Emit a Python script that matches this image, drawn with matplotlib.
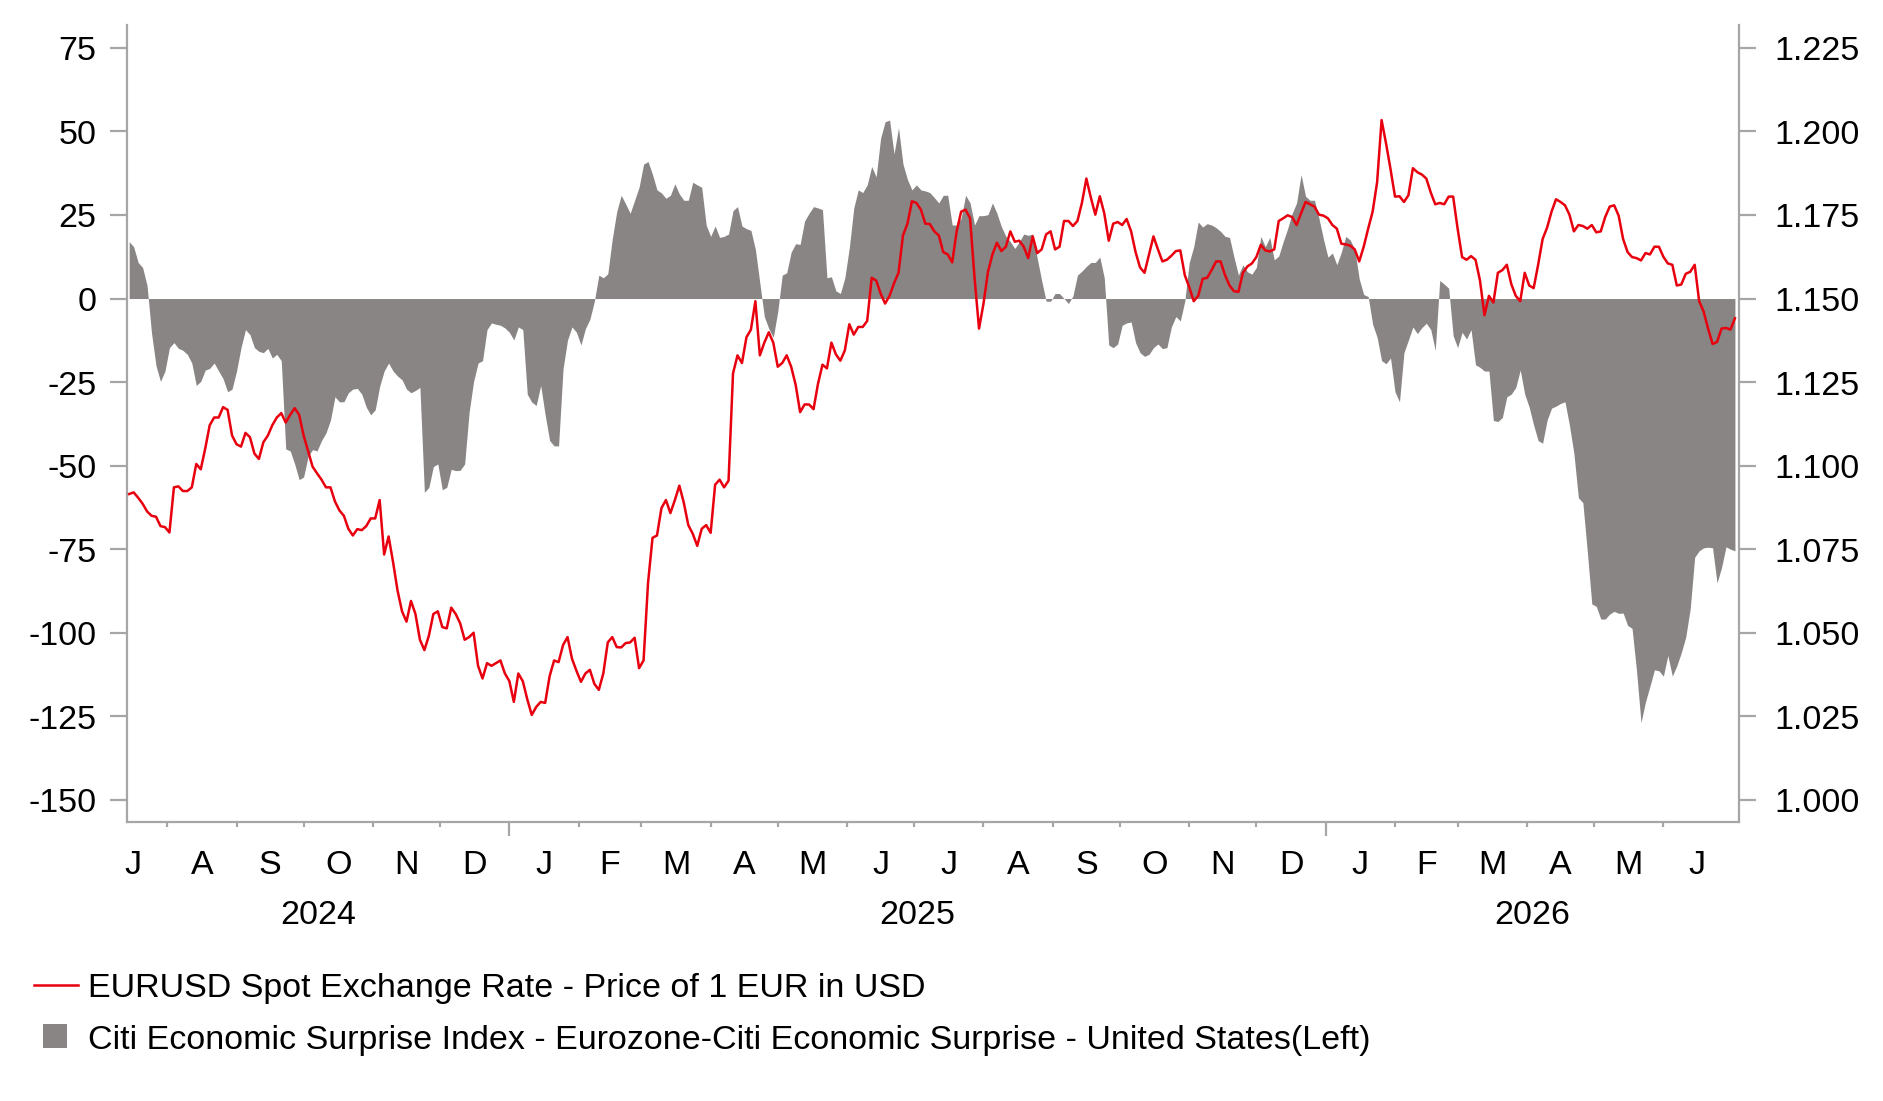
import matplotlib
matplotlib.use("Agg")
import matplotlib.pyplot as plt
import matplotlib.transforms as mtransforms
from matplotlib.lines import Line2D
from matplotlib.patches import Rectangle
import pandas as pd

plt.rcParams["font.family"] = ["Liberation Sans", "DejaVu Sans"]
plt.rcParams["font.size"] = 24.5

COLORS = {
    "fill": "#898584",
    "line": "#E8000E",
    "axis": "#A6A6A6",
    "ink": "#000000",
}

# observations every 2 days, 15 Jul 2024 -> 3 Jul 2026
dates = pd.date_range("2024-07-15", periods=360, freq="2D")

# Citi surprise index: Eurozone minus United States (left axis)
cesi_diff = [
    17, 15.5, 10.8, 9.3, 3.9, -10.4, -20.1, -24.8, -21.7, -14.7,
    -13.2, -14.9, -15.5, -16.7, -19.3, -26.0, -24.8, -21.4, -20.9, -19.3,
    -21.7, -24.0, -27.9, -27.1, -21.7, -14.7, -9.3, -10.8, -14.7, -15.8,
    -16.2, -14.9, -17.8, -16.7, -18.6, -45.0, -45.6, -49.5, -54.2, -53.4,
    -47.2, -45.2, -45.6, -42.5, -40.2, -36.4, -29.4, -30.9, -30.9, -28.2,
    -27.1, -26.9, -28.6, -32.5, -34.8, -33.3, -26.3, -21.7, -19.3, -21.7,
    -23.2, -24.3, -27.1, -28.2, -27.5, -26.6, -58.0, -56.5, -50.3, -49.5,
    -57.2, -56.5, -51.1, -51.5, -51.4, -49.5, -34.0, -24.8, -19.3, -18.6,
    -9.3, -7.3, -7.7, -8.0, -8.8, -10.1, -12.4, -8.5, -9.3, -28.6,
    -31.0,
    -32.0, -26.0, -34.8, -42.5, -44.1, -44.1, -21.0, -12.4, -8.5, -10.1,
    -13.9, -9.0, -6.2, -0.8, 7.0, 6.2, 7.4, 17.8, 26.0, 30.9,
    28.3, 25.5, 29.4, 33.3, 40.2, 41.0, 37.1, 32.5, 31.6, 30.0,
    30.9, 34.3, 31.3, 29.4, 29.4, 34.8, 34.0, 33.3, 22.0, 18.6,
    21.7, 18.3, 18.6, 19.3, 26.3, 27.5, 21.7, 20.9, 20.4, 14.7,
    4.6, -5.4, -9.0, -11.6, -3.9, 7.0, 7.7, 13.9, 16.4, 16.2,
    23.2, 25.5, 27.5, 27.1, 26.6, 6.2, 6.5, 2.3, 1.5, 6.2,
    15.2, 27.1, 32.5, 31.7, 34.0, 39.5, 36.4, 48.0, 52.9, 53.4,
    43.3, 51.1, 40.2, 35.6, 32.5, 34.0, 32.5, 32.2, 31.7, 30.2,
    28.6, 30.9, 30.9, 22.0, 22.0, 24.0, 30.9, 28.6, 22.0, 24.8,
    24.8, 25.1, 28.6, 25.5, 21.5, 18.6, 17.0, 15.0, 17.0, 19.3,
    18.9, 19.3, 12.1, 5.4, -0.8, -0.8, 1.5, 1.5, 0.0, -1.5,
    0.8, 7.0, 8.2, 9.6, 10.8, 10.8, 12.4, 6.2, -13.9, -14.7,
    -13.6, -8.0, -7.3, -7.0, -13.2, -16.2, -17.3, -16.7, -14.7, -13.6,
    -15.0, -14.7, -8.5, -5.4, -6.7, -0.8, 10.8, 15.5, 22.9, 21.4,
    22.4, 22.0, 21.2, 20.1, 18.6, 18.3, 12.4, 7.0, 10.1, 8.0,
    7.3, 9.3, 18.6, 15.5, 18.3, 11.6, 12.7, 17.0, 20.9, 25.5,
    28.6, 37.1, 30.6, 29.4, 29.4, 24.0, 17.8, 12.4, 13.6, 10.1,
    13.9, 18.6, 17.5, 14.7, 5.9, 1.2, 0.6, -7.7, -11.6, -18.6,
    -19.5, -17.8, -27.9, -30.9, -16.2, -12.4, -8.5, -10.5, -8.7, -7.4,
    -9.3, -15.5, 5.4, 4.3, 3.1, -11.1, -14.7, -10.1, -12.1, -9.3,
    -19.8, -20.6, -21.7, -21.7, -36.5, -36.8, -35.6, -29.4, -28.6, -26.6,
    -21.4, -28.6, -32.5, -37.9, -42.5, -43.3, -36.4, -32.8, -32.2, -31.4,
    -30.9, -37.9, -46.4, -59.6, -61.1, -75.8, -91.4, -92.1, -95.9, -95.9,
    -94.4, -93.6, -94.2, -94.1, -97.8, -98.7, -111.4, -126.9, -120.7, -116.0,
    -111.1, -111.4, -113.0, -106.8, -113.0, -109.9, -106.0, -101.3, -92.8, -77.4,
    -75.5, -74.6, -74.4, -74.6, -85.1, -80.5, -74.3, -75.0, -75.5,
]

# EURUSD spot (right axis)
eurusd = [
    1.0915, 1.0920, 1.0904, 1.0886, 1.0863, 1.0850, 1.0847, 1.0819, 1.0816, 1.0800,
    1.0935, 1.0938, 1.0924, 1.0924, 1.0935, 1.1005, 1.0989, 1.1051, 1.1121, 1.1144,
    1.1144, 1.1175, 1.1167, 1.1090, 1.1064, 1.1057, 1.1098, 1.1085, 1.1036, 1.1020,
    1.1070, 1.1090, 1.1121, 1.1144, 1.1157, 1.1129, 1.1152, 1.1172, 1.1152, 1.1090,
    1.1044, 1.0997, 1.0977, 1.0958, 1.0935, 1.0935, 1.0893, 1.0866, 1.0850, 1.0811,
    1.0791, 1.0810, 1.0807, 1.0819, 1.0842, 1.0842, 1.0897, 1.0734, 1.0788, 1.0711,
    1.0626, 1.0564, 1.0533, 1.0595, 1.0556, 1.0479, 1.0448, 1.0491, 1.0556, 1.0564,
    1.0517, 1.0513, 1.0575, 1.0556, 1.0528, 1.0479, 1.0487, 1.0500, 1.0401, 1.0363,
    1.0409, 1.0401, 1.0409, 1.0417, 1.0378, 1.0355, 1.0293, 1.0378, 1.0355, 1.0301,
    1.0254,
    1.0278, 1.0293, 1.0290, 1.0370, 1.0417, 1.0412, 1.0463, 1.0487, 1.0422, 1.0386,
    1.0353, 1.0378, 1.0389, 1.0347, 1.0329, 1.0378, 1.0471, 1.0487, 1.0457, 1.0456,
    1.0469, 1.0471, 1.0485, 1.0394, 1.0417, 1.0649, 1.0784, 1.0791, 1.0873, 1.0897,
    1.0858, 1.0897, 1.0940, 1.0889, 1.0822, 1.0796, 1.0760, 1.0811, 1.0822, 1.0799,
    1.0943, 1.0958, 1.0935, 1.0955, 1.1276, 1.1330, 1.1307, 1.1384, 1.1407, 1.1492,
    1.1330, 1.1368, 1.1399, 1.1368, 1.1296, 1.1307, 1.1330, 1.1296, 1.1242, 1.1160,
    1.1183, 1.1183, 1.1169, 1.1245, 1.1302, 1.1291, 1.1368, 1.1333, 1.1314, 1.1345,
    1.1423, 1.1392, 1.1415, 1.1415, 1.1433, 1.1562, 1.1554, 1.1515, 1.1485, 1.1508,
    1.1546, 1.1577, 1.1689, 1.1724, 1.1791, 1.1786, 1.1766, 1.1724, 1.1723, 1.1701,
    1.1689, 1.1639, 1.1632, 1.1608, 1.1701, 1.1760, 1.1766, 1.1740, 1.1562, 1.1410,
    1.1485, 1.1580, 1.1632, 1.1667, 1.1642, 1.1655, 1.1701, 1.1670, 1.1673, 1.1655,
    1.1621, 1.1686, 1.1636, 1.1647, 1.1692, 1.1701, 1.1647, 1.1655, 1.1732, 1.1732,
    1.1717, 1.1732, 1.1786, 1.1859, 1.1802, 1.1751, 1.1806, 1.1755, 1.1673, 1.1724,
    1.1729, 1.1720, 1.1738, 1.1701, 1.1639, 1.1593, 1.1577, 1.1632, 1.1686, 1.1647,
    1.1611, 1.1616, 1.1628, 1.1642, 1.1644, 1.1570, 1.1534, 1.1492, 1.1508, 1.1559,
    1.1562, 1.1585, 1.1611, 1.1611, 1.1570, 1.1539, 1.1522, 1.1520, 1.1577, 1.1596,
    1.1605, 1.1624, 1.1661, 1.1644, 1.1641, 1.1647, 1.1732, 1.1740, 1.1749, 1.1744,
    1.1720, 1.1755, 1.1789, 1.1782, 1.1775, 1.1751, 1.1748, 1.1740, 1.1720, 1.1709,
    1.1664, 1.1662, 1.1658, 1.1647, 1.1611, 1.1655, 1.1709, 1.1760, 1.1848, 1.2034,
    1.1964, 1.1887, 1.1805, 1.1806, 1.1789, 1.1809, 1.1890, 1.1878, 1.1871, 1.1859,
    1.1817, 1.1782, 1.1786, 1.1782, 1.1805, 1.1805, 1.1709, 1.1624, 1.1616, 1.1627,
    1.1616, 1.1554, 1.1450, 1.1508, 1.1488, 1.1577, 1.1585, 1.1601, 1.1543, 1.1508,
    1.1492, 1.1577, 1.1539, 1.1531, 1.1601, 1.1678, 1.1712, 1.1760, 1.1797, 1.1789,
    1.1779, 1.1751, 1.1701, 1.1720, 1.1717, 1.1709, 1.1720, 1.1698, 1.1701, 1.1744,
    1.1775, 1.1779, 1.1748, 1.1678, 1.1639, 1.1624, 1.1621, 1.1614, 1.1636, 1.1632,
    1.1655, 1.1655, 1.1625, 1.1605, 1.1601, 1.1539, 1.1542, 1.1574, 1.1580, 1.1601,
    1.1492, 1.1461, 1.1410, 1.1364, 1.1370, 1.1410, 1.1412, 1.1407, 1.1441,
]

left_ticks = [-150, -125, -100, -75, -50, -25, 0, 25, 50, 75]
right_ticks = [1.000, 1.025, 1.050, 1.075, 1.100, 1.125, 1.150, 1.175, 1.200, 1.225]
month_letters = ["J", "F", "M", "A", "M", "J", "J", "A", "S", "O", "N", "D"]
years = [2024, 2025, 2026]
legend_labels = [
    "EURUSD Spot Exchange Rate - Price of 1 EUR in USD",
    "Citi Economic Surprise Index - Eurozone-Citi Economic Surprise - United States(Left)",
]

x_start = pd.Timestamp("2024-07-14")
x_end = pd.Timestamp("2026-07-05")
left_lim = (-156.6, 81.7)

fig = plt.figure(figsize=(18.835, 11.015), dpi=100)
ax = fig.add_axes([0.0674, 0.2534, 0.8561, 0.7230])
ax2 = ax.twinx()

ax.fill_between(dates, cesi_diff, 0, color=COLORS["fill"], linewidth=0)
ax2.plot(dates, eurusd, color=COLORS["line"], linewidth=1.8)

# spines
for side in ("top", "right"):
    ax.spines[side].set_visible(False)
for side in ("top", "left", "bottom"):
    ax2.spines[side].set_visible(False)
for sp in (ax.spines["left"], ax.spines["bottom"], ax2.spines["right"]):
    sp.set_color(COLORS["axis"])
    sp.set_linewidth(1.6)

# y axes
ax.set_yticks(left_ticks, labels=[str(v) for v in left_ticks])
ax.tick_params(axis="y", length=12, width=1.6, color=COLORS["axis"], pad=10)
ax2.set_yticks(right_ticks, labels=[f"{v:.3f}" for v in right_ticks])
ax2.tick_params(axis="y", length=12, width=1.6, color=COLORS["axis"], pad=13)

# x axis: month boundary ticks, letters at mid-month
month_starts = pd.date_range("2024-07-01", "2026-06-01", freq="MS")
boundaries = [m for m in month_starts if x_start <= m <= x_end]
mids = month_starts + pd.to_timedelta(month_starts.days_in_month / 2, unit="D")
ax.set_xticks(boundaries, labels=[""] * len(boundaries))
ax.set_xticks(mids, labels=[month_letters[m.month - 1] for m in month_starts], minor=True)
ax.tick_params(axis="x", which="major", length=3.8, width=1.6, color=COLORS["axis"])
ax.tick_params(axis="x", which="minor", length=0, pad=20)
for tick, loc in zip(ax.xaxis.get_major_ticks(), boundaries):
    if loc.month == 1:
        tick.tick1line.set_markersize(10)

# limits last, so the tick calls cannot widen them
ax.set_xlim(x_start, x_end)
ax.set_ylim(*left_lim)
ax2.set_ylim(1.15 + left_lim[0] / 1000, 1.15 + left_lim[1] / 1000)

blend = mtransforms.blended_transform_factory(ax.transData, ax.transAxes)
for yr in years:
    lo = max(x_start, pd.Timestamp(f"{yr}-01-01"))
    hi = min(x_end, pd.Timestamp(f"{yr + 1}-01-01"))
    ax.text(lo + (hi - lo) / 2, -0.127, str(yr), transform=blend,
            ha="center", va="baseline", color=COLORS["ink"])

# legend drawn below the plot
fig.add_artist(Line2D([0.0181, 0.0414], [0.1054, 0.1054], transform=fig.transFigure,
                      color=COLORS["line"], linewidth=1.8))
fig.add_artist(Rectangle((0.0228, 0.0481), 0.01275, 0.0218, transform=fig.transFigure,
                         facecolor=COLORS["fill"], edgecolor="none"))
fig.text(0.0467, 0.0945, legend_labels[0], ha="left", va="baseline")
fig.text(0.0467, 0.0481, legend_labels[1], ha="left", va="baseline")

fig.savefig("out.png", dpi=100, facecolor="white")
